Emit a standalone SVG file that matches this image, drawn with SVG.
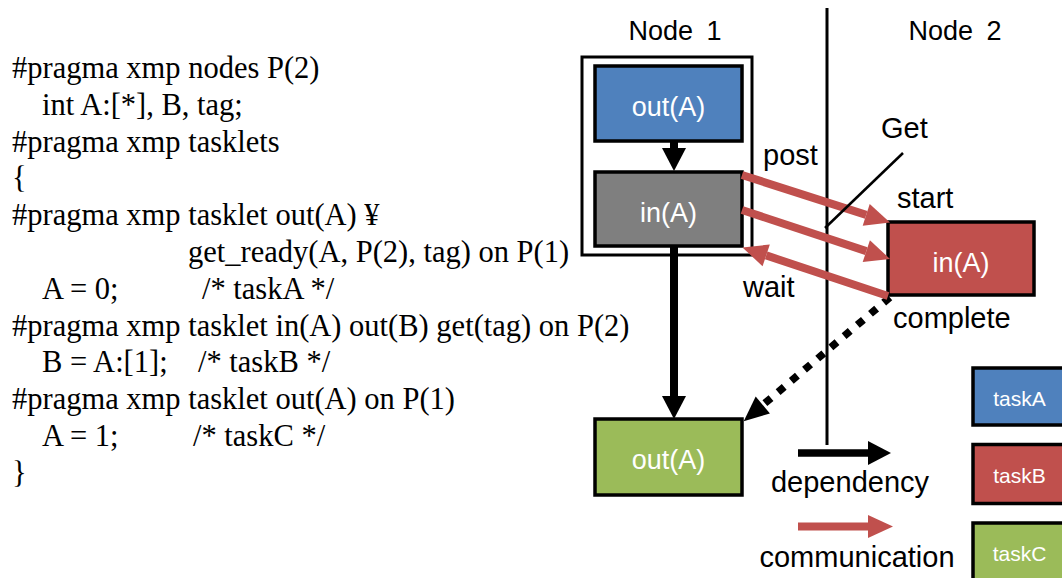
<svg xmlns="http://www.w3.org/2000/svg" width="1062" height="578" viewBox="0 0 1062 578">
  <style>
    .code { font-family: "Liberation Serif", "Times New Roman", serif; font-size: 30.5px; fill: #000; }
    .lbl { font-family: "Liberation Sans", Arial, sans-serif; font-size: 29px; fill: #000; }
    .head { font-family: "Liberation Sans", Arial, sans-serif; font-size: 27px; fill: #000; text-anchor: middle; word-spacing: 6px; }
    .task { font-family: "Liberation Sans", Arial, sans-serif; font-size: 27px; fill: #fff; text-anchor: middle; }
    .key { font-family: "Liberation Sans", Arial, sans-serif; font-size: 21px; fill: #fff; text-anchor: middle; }
    .box { stroke: #000; stroke-width: 3.5; }
    .dep { stroke: #000; stroke-width: 8; fill: none; }
    .comm { stroke: #C0504D; stroke-width: 8; fill: none; }
  </style>
  <defs>
    <marker id="depHead" markerUnits="userSpaceOnUse" markerWidth="24" markerHeight="24" refX="0" refY="12" orient="auto" overflow="visible">
      <path d="M0,0 L23,12 L0,24 Z" fill="#000"/>
    </marker>
    <marker id="dotHead" markerUnits="userSpaceOnUse" markerWidth="25" markerHeight="22" refX="0" refY="11" orient="auto" overflow="visible">
      <path d="M0,0 L25,11 L0,22 Z" fill="#000"/>
    </marker>
    <marker id="commHead" markerUnits="userSpaceOnUse" markerWidth="25" markerHeight="23" refX="0" refY="11.5" orient="auto" overflow="visible">
      <path d="M0,0 L25,11.5 L0,23 Z" fill="#C0504D"/>
    </marker>
  </defs>

  <rect width="1062" height="578" fill="#fff"/>

  <!-- source listing -->
  <g id="code">
    <text class="code" x="12" y="78">#pragma xmp nodes P(2)</text>
    <text class="code" x="42" y="115">int A:[*], B, tag;</text>
    <text class="code" x="12" y="152">#pragma xmp tasklets</text>
    <text class="code" x="12" y="188">{</text>
    <text class="code" x="12" y="225">#pragma xmp tasklet out(A) ¥</text>
    <text class="code" x="188" y="262">get_ready(A, P(2), tag) on P(1)</text>
    <text class="code" x="42" y="298.5">A = 0;</text>
    <text class="code" x="202" y="298.5">/* taskA */</text>
    <text class="code" x="12" y="335.5">#pragma xmp tasklet in(A) out(B) get(tag) on P(2)</text>
    <text class="code" x="42" y="372">B = A:[1];</text>
    <text class="code" x="198" y="372">/* taskB */</text>
    <text class="code" x="12" y="409">#pragma xmp tasklet out(A) on P(1)</text>
    <text class="code" x="42" y="446">A = 1;</text>
    <text class="code" x="193" y="446">/* taskC */</text>
    <text class="code" x="12" y="482.5">}</text>
  </g>

  <!-- node boundary -->
  <g id="divider">
    <line x1="827" y1="8" x2="827" y2="445" stroke="#000" stroke-width="3"/>
    <text class="head" x="675" y="40">Node 1</text>
    <text class="head" x="955" y="40">Node 2</text>
  </g>

  <g id="node1-frame">
    <rect x="582" y="57" width="170" height="198" fill="#fff" stroke="#000" stroke-width="3"/>
  </g>

  <g id="taskA">
    <rect class="box" x="595" y="66" width="147" height="75" fill="#4F81BD"/>
    <text class="task" x="668.5" y="116">out(A)</text>
  </g>

  <g id="taskB-node1">
    <rect class="box" x="595" y="172" width="147" height="74" fill="#7F7F7F"/>
    <text class="task" x="668.5" y="222">in(A)</text>
  </g>

  <g id="taskB-node2">
    <rect class="box" x="888" y="222" width="146" height="73" fill="#C0504D"/>
    <text class="task" x="961" y="272">in(A)</text>
  </g>

  <g id="taskC">
    <rect class="box" x="595" y="419" width="147" height="76" fill="#9BBB59"/>
    <text class="task" x="668.5" y="469">out(A)</text>
  </g>

  <g id="connectors">
    <!-- dependencies on node 1 -->
    <line class="dep" x1="674" y1="141" x2="674" y2="148" marker-end="url(#depHead)"/>
    <line class="dep" x1="674" y1="246" x2="674" y2="396" marker-end="url(#depHead)"/>
    <!-- completion back to taskC -->
    <line x1="889.8" y1="297.4" x2="762.8" y2="405" stroke="#000" stroke-width="7.5" stroke-dasharray="8 9.3" marker-end="url(#dotHead)"/>
    <!-- post / start / wait communication -->
    <line class="comm" x1="742" y1="175" x2="866.2" y2="214.9" marker-end="url(#commHead)"/>
    <line class="comm" x1="742" y1="210" x2="866.3" y2="251.1" marker-end="url(#commHead)"/>
    <line class="comm" x1="888" y1="296" x2="766.2" y2="255.4" marker-end="url(#commHead)"/>
    <!-- Get callout -->
    <line x1="903" y1="153" x2="825" y2="228" stroke="#000" stroke-width="2.5"/>
  </g>

  <g id="labels">
    <text class="lbl" x="763" y="165">post</text>
    <text class="lbl" x="881" y="138">Get</text>
    <text class="lbl" x="897" y="208">start</text>
    <text class="lbl" x="743" y="297">wait</text>
    <text class="lbl" x="893" y="328">complete</text>
  </g>

  <!-- legend -->
  <g id="legend-arrows">
    <line x1="798" y1="453" x2="868" y2="453" stroke="#000" stroke-width="7.5" marker-end="url(#depHead)"/>
    <text class="lbl" x="850" y="492" text-anchor="middle">dependency</text>
    <line x1="798" y1="526.5" x2="868" y2="526.5" stroke="#C0504D" stroke-width="8" marker-end="url(#commHead)"/>
    <text class="lbl" x="857" y="567" text-anchor="middle">communication</text>
  </g>

  <g id="legend-taskA">
    <rect class="box" x="973" y="368" width="100" height="57" fill="#4F81BD"/>
    <text class="key" x="1019.5" y="406">taskA</text>
  </g>
  <g id="legend-taskB">
    <rect class="box" x="973" y="444.5" width="100" height="59" fill="#C0504D"/>
    <text class="key" x="1019.5" y="483">taskB</text>
  </g>
  <g id="legend-taskC">
    <rect class="box" x="973" y="523" width="100" height="62" fill="#9BBB59"/>
    <text class="key" x="1019.5" y="561">taskC</text>
  </g>
</svg>
